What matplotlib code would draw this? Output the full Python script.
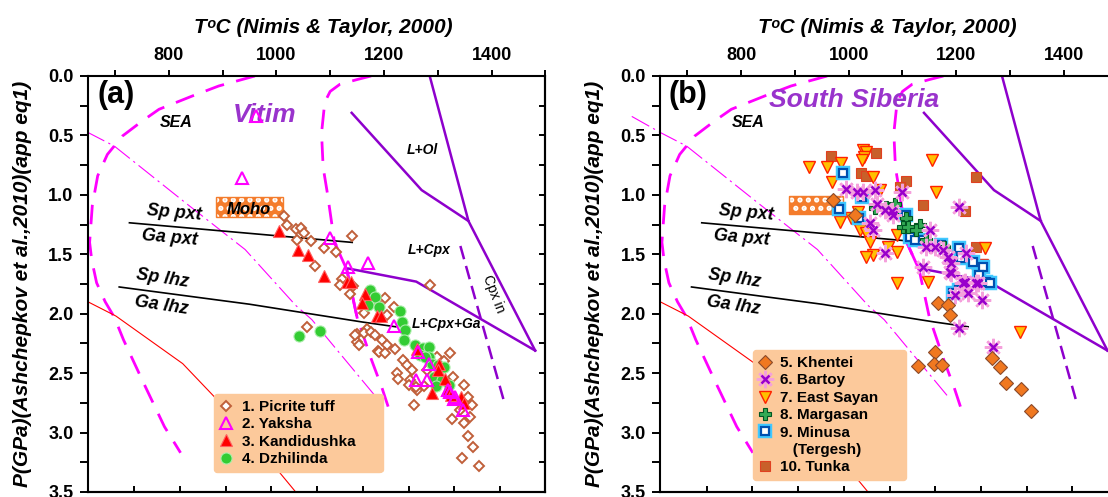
import numpy as np
import matplotlib
matplotlib.use("Agg")
import matplotlib.pyplot as plt
from matplotlib.lines import Line2D
from matplotlib.patches import Rectangle
from matplotlib.ticker import FormatStrFormatter

plt.rcParams['font.family'] = ['Liberation Sans', 'DejaVu Sans']
plt.rcParams['font.weight'] = 'bold'
plt.rcParams['axes.labelweight'] = 'bold'
plt.rcParams['hatch.linewidth'] = 2.5

# ---- values: T (deg C), P (GPa) ----

# (a) Vitim
picrite_T = [1014, 1020, 1036, 1045, 1051, 1064, 1038, 1088, 1110, 1141, 1071, 1122, 1119, 1136,
             1143, 1163, 1150, 1150, 1169, 1188, 1202, 1218, 1190, 1205, 1286, 1057, 1163, 1175,
             1184, 1196, 1205, 1153, 1190, 1202, 1221, 1236, 1243, 1252, 1224, 1249, 1261, 1255,
             1323, 1298, 1311, 1329, 1348, 1357, 1363, 1342, 1326, 1348, 1357, 1366, 1345, 1376,
             1360, 1280, 1274, 1246, 1147, 1226, 1260]
picrite_P = [1.18, 1.25, 1.29, 1.28, 1.32, 1.39, 1.38, 1.45, 1.48, 1.35, 1.60, 1.71, 1.76, 1.83,
             1.77, 1.99, 2.17, 2.24, 2.13, 2.31, 1.87, 1.94, 1.93, 2.01, 1.76, 2.11, 2.16, 2.15,
             2.18, 2.22, 2.26, 2.26, 2.32, 2.33, 2.30, 2.39, 2.43, 2.47, 2.50, 2.56, 2.64, 2.77,
             2.33, 2.36, 2.40, 2.53, 2.60, 2.70, 2.77, 2.81, 2.89, 2.92, 3.03, 3.12, 3.21, 3.28,
             2.87, 2.47, 2.61, 2.60, 2.18, 2.55, 2.62]

yaksha_T = [937, 962, 1100, 1134, 1171, 1218, 1264, 1260, 1280, 1283, 1319, 1323, 1330, 1332, 1347]
yaksha_P = [0.855, 0.34, 1.365, 1.61, 1.57, 2.10, 2.32, 2.56, 2.56, 2.42, 2.64, 2.66, 2.72, 2.70, 2.81]

kandid_T = [1005, 1041, 1058, 1089, 1131, 1139, 1164, 1160, 1187, 1195, 1262, 1302, 1300, 1314,
            1290, 1317, 1325, 1343, 1349]
kandid_P = [1.30, 1.46, 1.51, 1.68, 1.73, 1.73, 1.83, 1.91, 2.02, 2.02, 2.30, 2.42, 2.47, 2.55,
            2.67, 2.64, 2.68, 2.70, 2.75]

dzhil_T = [1042, 1082, 1174, 1184, 1171, 1190, 1229, 1233, 1240, 1238, 1258, 1273, 1283, 1267,
           1283, 1289, 1300, 1311, 1293, 1307, 1296, 1320, 1277]
dzhil_P = [2.19, 2.145, 1.80, 1.86, 1.93, 1.94, 1.98, 2.07, 2.14, 2.22, 2.26, 2.29, 2.28, 2.35,
           2.36, 2.42, 2.43, 2.445, 2.53, 2.557, 2.61, 2.60, 2.36]

# (b) South Siberia
khentei_T = [971, 1011, 1166, 1185, 1189, 1160, 1129, 1158, 1174, 1267, 1281, 1293, 1321, 1338]
khentei_P = [1.04, 1.17, 1.91, 1.93, 2.01, 2.32, 2.44, 2.425, 2.43, 2.37, 2.45, 2.585, 2.63, 2.815]

bartoy_T = [995, 1015, 1027, 1049, 1052, 1067, 1083, 1080, 1100, 1040, 1045, 1068, 1151, 1160,
            1144, 1175, 1185, 1191, 1219, 1206, 1138, 1188, 1216, 1240, 1191, 1213, 1237, 1197,
            1222, 1247, 1206, 1268]
bartoy_P = [0.953, 0.973, 0.973, 0.96, 1.077, 1.127, 1.169, 1.133, 0.98, 1.24, 1.295, 1.49, 1.295,
            1.435, 1.435, 1.463, 1.52, 1.576, 1.49, 1.105, 1.61, 1.646, 1.73, 1.74, 1.66, 1.744,
            1.744, 1.842, 1.828, 1.884, 2.122, 2.282]

esayan_T = [927, 959, 985, 1027, 1033, 1028, 1024, 1045, 970, 1154, 1163, 984, 1005, 1021, 1033,
            1039, 1045, 1033, 1073, 1089, 1089, 1058, 1018, 1253, 1231, 1247, 1089, 1148, 1318]
esayan_P = [0.763, 0.763, 0.735, 0.622, 0.637, 0.679, 0.707, 0.847, 0.894, 0.707, 0.978, 1.225,
            1.197, 1.295, 1.323, 1.393, 1.505, 1.52, 1.435, 1.477, 1.337, 0.959, 1.141, 1.449,
            1.59, 1.59, 1.744, 1.73, 2.15]

marg_T = [1049, 1070, 1086, 1080, 1107, 1101, 1110, 1132, 1126, 1144, 1178]
marg_P = [1.113, 1.099, 1.077, 1.155, 1.197, 1.267, 1.267, 1.253, 1.295, 1.379, 1.435]

minusa_T = [989, 982, 1019, 1024, 1107, 1114, 1123, 1138, 1172, 1206, 1209, 1231, 1250, 1243,
            1256, 1262, 1194, 1206]
minusa_P = [0.819, 1.119, 1.197, 1.015, 1.169, 1.351, 1.379, 1.379, 1.421, 1.449, 1.534, 1.562,
            1.604, 1.674, 1.73, 1.744, 1.828, 1.80]

tunka_T = [967, 1050, 1023, 1033, 1107, 1095, 1139, 1237, 1217, 1236]
tunka_P = [0.673, 0.645, 0.813, 0.841, 0.881, 0.937, 1.085, 0.847, 1.135, 1.435]

# ---- reference curves ----
outer_T = [960, 893, 844, 782, 751, 714, 686, 668, 658, 653, 657, 666, 682, 699, 716, 753, 792, 822]
outer_P = [0.0, 0.084, 0.168, 0.28, 0.378, 0.505, 0.66, 0.84, 1.09, 1.40, 1.55, 1.74, 1.90, 2.03,
           2.22, 2.58, 2.95, 3.17]

inner_T = [1176, 1150, 1118, 1100, 1090, 1084, 1087, 1095, 1108, 1131, 1150, 1165, 1177, 1196, 1212]
inner_P = [0.0, 0.03, 0.07, 0.13, 0.22, 0.48, 0.77, 0.99, 1.40, 1.63, 2.03, 2.23, 2.39, 2.62, 2.84]

thin_T = [597, 652, 699, 832, 942, 1036, 1066, 1187]
thin_P = [0.34, 0.48, 0.59, 1.07, 1.46, 1.93, 2.05, 2.71]

red_T = [650, 702, 764, 826, 885, 952, 1036, 1050]
red_P = [1.90, 2.02, 2.22, 2.42, 2.70, 3.04, 3.50, 3.58]

pxt_T = [727, 1141]
pxt_P = [1.235, 1.40]
lhz_T = [708, 950, 1160, 1222]
lhz_P = [1.775, 1.92, 2.07, 2.11]

lol_T = [1140, 1270, 1357]
lol_P = [0.31, 0.96, 1.22]
steep_T = [1285, 1357, 1481]
steep_P = [0.0, 1.22, 2.31]
lcpx_T = [1134, 1260, 1481]
lcpx_P = [1.62, 1.73, 2.31]
cpxin_T = [1342, 1422]
cpxin_P = [1.43, 2.72]

bottom_ticks = [736, 821, 906, 991, 1076, 1161, 1246, 1331, 1416]

MAG = '#ff00ff'
PUR = '#8e00cc'
PURTXT = '#9933cc'
PEACH = '#fcc99b'
ORANGE = '#f47c2c'

fig = plt.figure(figsize=(11.08, 4.97), dpi=100)
W, H = 1108.0, 497.0
ax_a = fig.add_axes([88.0 / W, 5 / H, 457.4 / W, 416 / H])
ax_b = fig.add_axes([660.3 / W, 5 / H, 457.4 / W, 416 / H])


def frame(ax, xlab_x):
    ax.set_xlim(650, 1500)
    ax.set_ylim(3.5, 0)
    ax.xaxis.tick_top()
    ax.xaxis.set_label_position('top')
    ax.set_xticks([800, 1000, 1200, 1400])
    ax.set_xticks([700, 900, 1100, 1300, 1500], minor=True)
    ax.set_yticks(np.arange(0, 3.51, 0.5))
    ax.set_yticks(np.arange(0.25, 3.5, 0.5), minor=True)
    ax.yaxis.set_major_formatter(FormatStrFormatter('%.1f'))
    ax.tick_params(which='both', direction='out', width=1.4, labelsize=13)
    ax.tick_params(axis='x', which='both', length=4.5, pad=4.5)
    ax.tick_params(axis='y', which='both', length=6, pad=4.5)
    for s in ax.spines.values():
        s.set_linewidth(1.5)
    right = ax.secondary_yaxis('right')
    right.set_yticks(np.arange(0.25, 3.5, 0.25))
    right.tick_params(direction='in', length=4.5, width=1.4, labelright=False)
    right.spines['right'].set_linewidth(1.5)
    bot = ax.secondary_xaxis('bottom')
    bot.set_xticks(bottom_ticks)
    bot.tick_params(direction='in', length=4.5, width=1.4, labelbottom=False)
    bot.spines['bottom'].set_linewidth(1.5)

    ax.set_xlabel('T\u1d52C (Nimis & Taylor, 2000)', fontsize=15, style='italic')
    ax.xaxis.set_label_coords(xlab_x, 1.1026)
    ax.xaxis.label.set_va('baseline')
    ax.set_ylabel('P(GPa)(Ashchepkov et al.,2010)(app eq1)', fontsize=15, style='italic')
    ax.yaxis.set_label_coords(-0.1234, 0.5)


def fields(ax, solid_a, solid_b, thin_clip):
    ax.plot(outer_T, outer_P, color=MAG, lw=2, dashes=(7, 4.5), zorder=2)
    ax.plot(inner_T, inner_P, color=MAG, lw=2, dashes=(7, 4.5), zorder=2)
    ax.plot(inner_T[solid_a:solid_b + 1], inner_P[solid_a:solid_b + 1], color=MAG, lw=2, zorder=2)
    ax.plot(thin_T, thin_P, color=MAG, lw=0.8, dashes=(18, 4, 2, 4), zorder=2, clip_on=thin_clip)
    ax.plot(red_T, red_P, color='red', lw=0.8, zorder=2)
    ax.plot(pxt_T, pxt_P, color='black', lw=1.2, zorder=2)
    ax.plot(lhz_T, lhz_P, color='black', lw=1.2, zorder=2)
    for xs, ys in [(lol_T, lol_P), (steep_T, steep_P), (lcpx_T, lcpx_P)]:
        ax.plot(xs, ys, color=PUR, lw=1.8, zorder=2)
    ax.plot(cpxin_T, cpxin_P, color=PUR, lw=1.8, dashes=(5.5, 2.8), zorder=2)

    lab = dict(style='italic', ha='center', va='center', color='black')
    ax.text(813, 0.39, 'SEA', fontsize=11.5, **lab)
    ax.text(810, 1.15, 'Sp pxt', fontsize=13, rotation=-5, **lab)
    ax.text(801, 1.36, 'Ga pxt', fontsize=13, rotation=-5, **lab)
    ax.text(788, 1.70, 'Sp lhz', fontsize=13, rotation=-8.5, **lab)
    ax.text(786, 1.93, 'Ga lhz', fontsize=13, rotation=-8.5, **lab)


def moho(ax, t0, p0, dt, dp):
    # orange box with white dotted pattern
    ax.add_patch(Rectangle((t0, p0), dt, dp, facecolor=ORANGE, lw=0, zorder=2))
    ax.add_patch(Rectangle((t0, p0), dt, dp, fill=False, edgecolor='white', hatch='..',
                           lw=0, zorder=2))
    ax.add_patch(Rectangle((t0, p0), dt, dp, fill=False, edgecolor=ORANGE, lw=1, zorder=2))


# ---------------- panel (a) ----------------
frame(ax_a, 0.514)
fields(ax_a, 8, 10, True)

moho(ax_a, 887, 1.02, 126, 0.17)
ax_a.text(949, 1.12, 'Moho', fontsize=12, style='italic', ha='center', va='center', zorder=3)
ax_a.text(702, 0.16, '(a)', fontsize=22, ha='center', va='center')
ax_a.text(979, 0.33, 'Vitim', fontsize=19, style='italic', color=PURTXT, ha='center', va='center')
ax_a.text(1271, 0.62, 'L+Ol', fontsize=10, style='italic', ha='center', va='center')
ax_a.text(1284, 1.46, 'L+Cpx', fontsize=10, style='italic', ha='center', va='center')
ax_a.text(1317, 2.09, 'L+Cpx+Ga', fontsize=10, style='italic', ha='center', va='center')
ax_a.text(1403, 1.83, 'Cpx in', fontsize=10, fontweight='normal', rotation=-69,
          ha='center', va='center')

pic_style = dict(ls='none', marker='D', ms=5.6, mfc='white', mec='#c0603a', mew=1.4)
yak_style = dict(ls='none', marker='^', ms=9, mfc='none', mec=MAG, mew=1.5)
kan_style = dict(ls='none', marker='^', ms=9, mfc='#ff0000', mec='#ff6060', mew=0.8)
dzh_style = dict(ls='none', marker='o', ms=8, mfc='#33cc33', mec='#aaeeaa', mew=0.8)

ax_a.plot(picrite_T, picrite_P, zorder=3, **pic_style)
ax_a.plot(dzhil_T, dzhil_P, zorder=4, **dzh_style)
ax_a.plot(kandid_T, kandid_P, zorder=5, **kan_style)
ax_a.plot(yaksha_T, yaksha_P, zorder=6, **yak_style)

handles_a = [Line2D([], [], **pic_style), Line2D([], [], **yak_style),
             Line2D([], [], **kan_style), Line2D([], [], **dzh_style)]
labels_a = ['1. Picrite tuff', '2. Yaksha', '3. Kandidushka     ', '4. Dzhilinda']
leg_a = ax_a.legend(handles_a, labels_a, loc='upper left', bbox_to_anchor=(0.2756, 0.2356),
                    borderaxespad=0, prop=dict(size=11, weight='bold'), facecolor=PEACH,
                    edgecolor=PEACH, framealpha=1, handlelength=0.8, handletextpad=0.6,
                    labelspacing=0.22, borderpad=0.4)
leg_a.set_zorder(8)

# ---------------- panel (b) ----------------
frame(ax_b, 0.4966)
fields(ax_b, 7, 9, False)

moho(ax_b, 889, 1.01, 100, 0.15)
ax_b.text(702, 0.16, '(b)', fontsize=22, ha='center', va='center')
ax_b.text(1011, 0.20, 'South Siberia', fontsize=19, style='italic', color=PURTXT,
          ha='center', va='center')

tun_style = dict(ls='none', marker='s', ms=7, mfc='#c8602a', mec='#e04020', mew=0.8)
esa_style = dict(ls='none', marker='v', ms=8.5, mfc='#ffc000', mec='#ff2000', mew=1.0)
min_out = dict(ls='none', marker='s', ms=7.4, mfc='white', mec='#40c8ff', mew=3.2)
min_in = dict(ls='none', marker='s', ms=6.2, mfc='white', mec='#0050b0', mew=1.6)
mar_style = dict(ls='none', marker='P', ms=8.5, mfc='#33aa55', mec='#005522', mew=0.8)
bar_pink = dict(ls='none', marker=(8, 2, 0), ms=12.5, mfc='none', mec='#f5a0dc', mew=1.8)
bar_x = dict(ls='none', marker='x', ms=5.5, mfc='none', mec='#9900cc', mew=1.8)
khe_style = dict(ls='none', marker='D', ms=7, mfc='#f07820', mec='#8b4a2a', mew=0.8)

ax_b.plot(tunka_T, tunka_P, zorder=3, **tun_style)
ax_b.plot(esayan_T, esayan_P, zorder=4, **esa_style)
ax_b.plot(minusa_T, minusa_P, zorder=5, **min_out)
ax_b.plot(minusa_T, minusa_P, zorder=5, **min_in)
ax_b.plot(marg_T, marg_P, zorder=6, **mar_style)
ax_b.plot(bartoy_T, bartoy_P, zorder=7, **bar_pink)
ax_b.plot(bartoy_T, bartoy_P, zorder=7, **bar_x)
ax_b.plot(khentei_T, khentei_P, zorder=7, **khe_style)

handles_b = [Line2D([], [], **khe_style),
             (Line2D([], [], **bar_pink), Line2D([], [], **bar_x)),
             Line2D([], [], **esa_style),
             Line2D([], [], **mar_style),
             (Line2D([], [], **min_out), Line2D([], [], **min_in)),
             Line2D([], [], ls='none'),
             Line2D([], [], **tun_style)]
labels_b = ['5. Khentei', '6. Bartoy', '7. East Sayan     ', '8. Margasan', '9. Minusa',
            '   (Tergesh)', '10. Tunka']
leg_b = ax_b.legend(handles_b, labels_b, loc='upper left', bbox_to_anchor=(0.2024, 0.3413),
                    borderaxespad=0, prop=dict(size=11, weight='bold'), facecolor=PEACH,
                    edgecolor=PEACH, framealpha=1, handlelength=0.8, handletextpad=0.6,
                    labelspacing=0.22, borderpad=0.4)
leg_b.set_zorder(8)

fig.savefig('out.png', dpi=100)
